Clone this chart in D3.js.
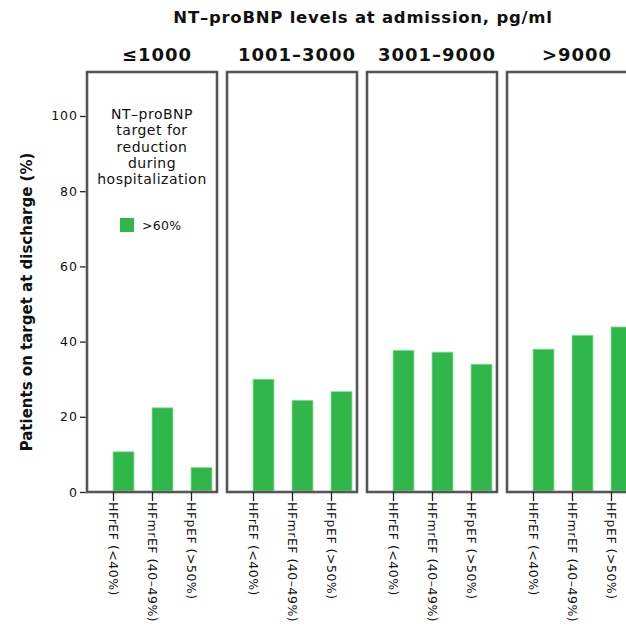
<!DOCTYPE html>
<html>
<head>
<meta charset="utf-8">
<script src="https://cdn.jsdelivr.net/npm/d3@7/dist/d3.min.js"></script>
<style>
  html, body { margin: 0; padding: 0; background: #fff; }
  svg { display: block; }
  text { font-family: "DejaVu Sans", Verdana, sans-serif; fill: #111; }
</style>
</head>
<body>
<script>
// ---- data ----
const panels = ["≤1000", "1001–3000", "3001–9000", ">9000"];
const groups = ["HFrEF (<40%)", "HFmrEF (40–49%)", "HFpEF (>50%)"];
const valuesLe1000 = [10.7, 22.4, 6.5];
const values1001to3000 = [30.0, 24.4, 26.7];
const values3001to9000 = [37.7, 37.2, 34.0];
const valuesGt9000 = [38.0, 41.7, 43.9];
const yTicks = [0, 20, 40, 60, 80, 100];
const titleText = "NT–proBNP levels at admission, pg/ml";
const yTitleText = "Patients on target at discharge (%)";
const legendTitleLines = ["NT–proBNP", "target for", "reduction", "during", "hospitalization"];
const legendItem = ">60%";

const panelValues = [valuesLe1000, values1001to3000, values3001to9000, valuesGt9000];
const data = panels.map((p, i) => ({ panel: p, values: groups.map((g, j) => ({ group: g, value: panelValues[i][j] })) }));

// ---- layout ----
const W = 626, H = 627;
const green = "#30b74a";
const svg = d3.select("body").append("svg").attr("width", W).attr("height", H);

const plotLeft = 87, panelW = 130, gap = 10;
const yTop = 72, yBottom = 492;

const xPanel = d3.scaleBand().domain(panels)
  .range([plotLeft, plotLeft + panels.length * (panelW + gap) - gap])
  .paddingInner(gap / (panelW + gap)).paddingOuter(0);
const xInner = d3.scalePoint().domain(groups).range([0, xPanel.bandwidth()]).padding(0.667);
const barW = 21;
const y = d3.scaleLinear().domain([0, 111.7]).range([yBottom, yTop]);

// title
svg.append("text").attr("x", 363).attr("y", 23).attr("text-anchor", "middle")
  .style("font-size", "16.5px").style("font-weight", "bold").style("letter-spacing", "0.75px").text(titleText);

// y title
svg.append("text").attr("transform", `translate(32,302) rotate(-90)`)
  .attr("text-anchor", "middle").style("font-size", "15px").style("font-weight", "bold").text(yTitleText);

// y axis
const yAxis = d3.axisLeft(y).tickValues(yTicks).tickSize(7).tickPadding(2);
const yg = svg.append("g").attr("transform", `translate(${plotLeft},0)`).call(yAxis);
yg.select(".domain").remove();
yg.selectAll(".tick line").attr("stroke", "#222").attr("stroke-width", 1.3);
yg.selectAll(".tick text").style("font-size", "12.5px").style("letter-spacing", "1px")
  .style("font-family", "DejaVu Sans, sans-serif").attr("fill", "#222");

// panels
const pg = svg.selectAll("g.panel").data(data).enter().append("g").attr("class", "panel")
  .attr("transform", d => `translate(${xPanel(d.panel)},0)`);

pg.append("text").attr("x", xPanel.bandwidth() / 2 + 5).attr("y", 61).attr("text-anchor", "middle")
  .style("font-size", "18px").style("font-weight", "bold").style("letter-spacing", "1px").text(d => d.panel);

// bars: left edge sits on the category tick (as in the reference)
pg.selectAll("rect.bar").data(d => d.values).enter().append("rect").attr("class", "bar")
  .attr("x", d => xInner(d.group))
  .attr("y", d => y(d.value))
  .attr("width", barW)
  .attr("height", d => yBottom - y(d.value))
  .attr("fill", green).attr("stroke", "#9adfa6").attr("stroke-width", 0.8);

pg.append("rect").attr("x", 0).attr("y", yTop).attr("width", xPanel.bandwidth()).attr("height", yBottom - yTop)
  .attr("fill", "none").attr("stroke", "#9a9a9a").attr("stroke-width", 3);
pg.append("rect").attr("x", 0).attr("y", yTop).attr("width", xPanel.bandwidth()).attr("height", yBottom - yTop)
  .attr("fill", "none").attr("stroke", "#333").attr("stroke-width", 1.3);

// x axes
pg.each(function () {
  const g = d3.select(this).append("g").attr("transform", `translate(0,${yBottom})`)
    .call(d3.axisBottom(xInner).tickSize(9).tickPadding(2));
  g.select(".domain").remove();
  g.selectAll(".tick line").attr("stroke", "#222").attr("stroke-width", 1.3);
  g.selectAll(".tick text")
    .attr("transform", "rotate(90)")
    .attr("x", 10).attr("y", 0).attr("dy", "0.35em")
    .attr("text-anchor", "start")
    .style("font-size", "12.5px").style("letter-spacing", "0.5px")
    .style("font-family", "DejaVu Sans, sans-serif").attr("fill", "#222");
});

// legend inside first panel
const lx = xPanel(panels[0]) + xPanel.bandwidth() / 2;
const lg = svg.append("g");
lg.selectAll("text.lt").data(legendTitleLines).enter().append("text").attr("class", "lt")
  .attr("x", lx).attr("y", (d, i) => 119 + i * 16.3).attr("text-anchor", "middle")
  .style("font-size", "14px").style("letter-spacing", "0.5px").text(d => d);
lg.append("rect").attr("x", 120).attr("y", 218).attr("width", 14).attr("height", 14).attr("fill", green);
lg.append("text").attr("x", 142).attr("y", 230).style("font-size", "12.5px").style("letter-spacing", "0.3px").text(legendItem);
</script>
</body>
</html>
